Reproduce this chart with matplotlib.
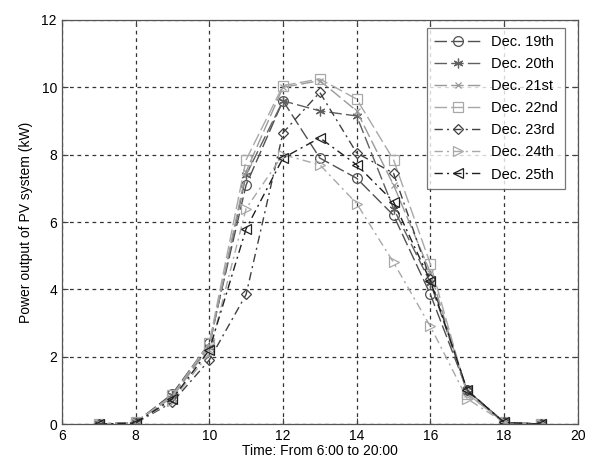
import matplotlib
matplotlib.use("Agg")
import matplotlib.pyplot as plt

# Hourly PV output (kW), 7:00 .. 19:00
hours = [7, 8, 9, 10, 11, 12, 13, 14, 15, 16, 17, 18, 19]
dec19 = [0, 0.05, 0.90, 2.40, 7.10, 9.60, 7.90, 7.30, 6.20, 3.85, 1.00, 0.05, 0]
dec20 = [0, 0.05, 0.85, 2.30, 7.40, 9.60, 9.30, 9.15, 6.40, 4.20, 1.00, 0.05, 0]
dec21 = [0, 0.05, 0.80, 2.30, 7.50, 10.00, 10.20, 9.30, 7.10, 4.50, 0.90, 0.05, 0]
dec22 = [0, 0.05, 0.85, 2.40, 7.85, 10.05, 10.25, 9.65, 7.85, 4.75, 0.90, 0.05, 0]
dec23 = [0, 0.03, 0.65, 1.90, 3.85, 8.65, 9.85, 8.05, 7.45, 4.30, 1.00, 0.05, 0]
dec24 = [0, 0.03, 0.70, 2.10, 6.40, 8.00, 7.70, 6.55, 4.80, 2.90, 0.75, 0.05, 0]
dec25 = [0, 0.03, 0.75, 2.20, 5.80, 7.90, 8.50, 7.70, 6.60, 4.25, 1.00, 0.05, 0]

labels = ["Dec. 19th", "Dec. 20th", "Dec. 21st", "Dec. 22nd",
          "Dec. 23rd", "Dec. 24th", "Dec. 25th"]
series = [dec19, dec20, dec21, dec22, dec23, dec24, dec25]

dash = (0, (9, 3))
dashdot = (0, (6, 3, 1.5, 3))
asterisk = (6, 2, 0)
styles = [
    dict(color="#505050", marker="o", ls=dash, ms=7),
    dict(color="#606060", marker=asterisk, ls=dash, ms=7),
    dict(color="#9a9a9a", marker="x", ls=dash, ms=5),
    dict(color="#a8a8a8", marker="s", ls=dash, ms=7),
    dict(color="#404040", marker="D", ls=dashdot, ms=5.5),
    dict(color="#a8a8a8", marker=">", ls=dashdot, ms=7),
    dict(color="#202020", marker="<", ls=dashdot, ms=7),
]

plt.rcParams["font.family"] = ["Liberation Sans", "DejaVu Sans"]

fig = plt.figure(figsize=(5.89, 4.65), dpi=100)
ax = fig.add_axes([0.105, 0.088, 0.876, 0.869])

for y, lab, st in zip(series, labels, styles):
    ax.plot(hours, y, label=lab, color=st["color"], ls=st["ls"], lw=1.0,
            marker=st["marker"], markersize=st["ms"], markerfacecolor="none",
            markeredgecolor=st["color"], markeredgewidth=0.9)

ax.set_xlim(6, 20)
ax.set_ylim(0, 12)
ax.set_xticks(range(6, 21, 2))
ax.set_yticks(range(0, 13, 2))
ax.grid(True, color="#333333", ls=(0, (3, 3)), lw=0.9)
ax.tick_params(direction="in", top=True, right=True, labelsize=10, length=4,
               color="#444444")
for s in ax.spines.values():
    s.set_color("#555555")
    s.set_linewidth(0.9)

ax.set_xlabel("Time: From 6:00 to 20:00", fontsize=10, labelpad=1)
ax.set_ylabel("Power output of PV system (kW)", fontsize=10, labelpad=6)

leg = ax.legend(loc="upper right", bbox_to_anchor=(0.99, 0.998), fontsize=10.5,
                frameon=True, fancybox=False, edgecolor="#555555",
                handlelength=3.3, borderpad=0.5, labelspacing=0.55,
                handletextpad=0.6)
leg.get_frame().set_linewidth(0.9)

fig.savefig("out.png", dpi=100)
